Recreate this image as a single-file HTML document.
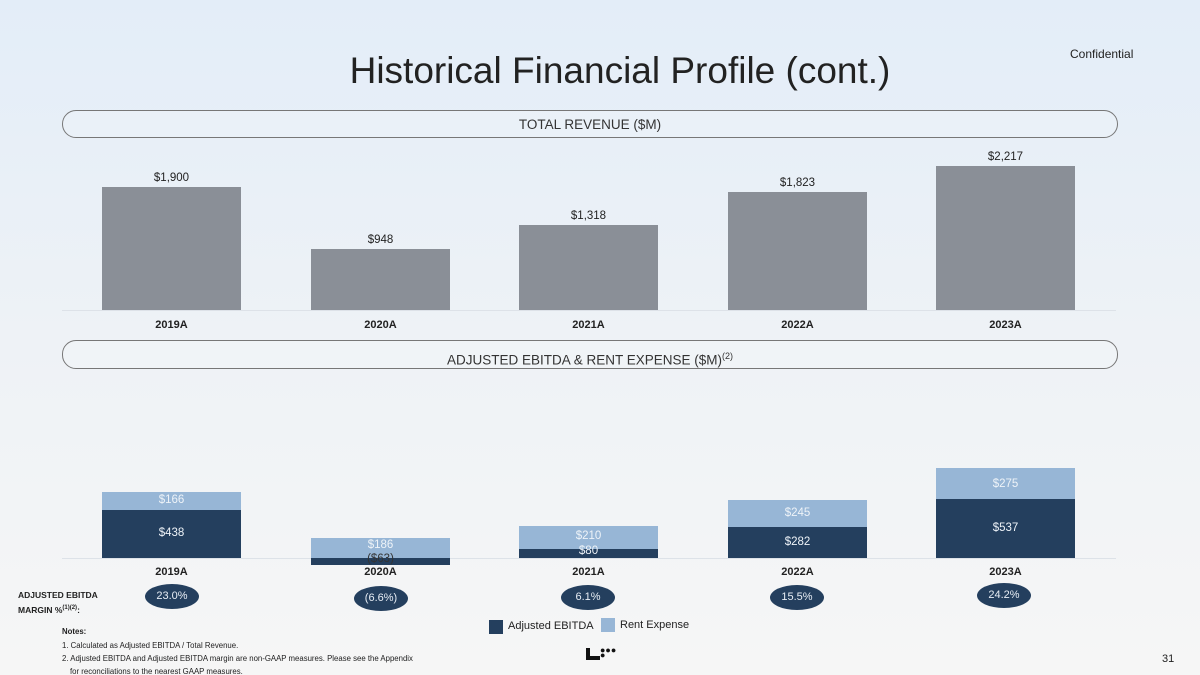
<!DOCTYPE html><html><head><style>
body{margin:0}
#p{position:relative;width:1200px;height:675px;overflow:hidden;background:linear-gradient(#e3edf8 0%,#eef2f6 50%,#f6f6f6 100%);font-family:"Liberation Sans",sans-serif;color:#222}
.a{position:absolute}
.bar{position:absolute;width:139px}
.g{background:#8a8f97}.d{background:#243f5e}.l{background:#97b6d6}
.v{position:absolute;width:139px;text-align:center;font-size:11.5px}
.w{color:#eef3f8}
.yr{position:absolute;width:139px;text-align:center;font-size:11px;font-weight:bold}
.pill{position:absolute;left:62px;width:1054px;border:1px solid #777;border-radius:14px;text-align:center;font-size:13.5px;color:#333;background:rgba(255,255,255,.15)}
.el{position:absolute;width:54px;height:25px;border-radius:50%;background:#243f5e;color:#e8eef5;font-size:11px;text-align:center;line-height:25px}
.n{position:absolute;left:62px;font-size:7.8px}
</style></head><body><div id="p">
<div class="a" style="left:0;width:1240px;top:50px;text-align:center;font-size:37px;color:#222">Historical Financial Profile (cont.)</div>
<div class="a" style="left:1070px;top:47px;font-size:12px">Confidential</div>
<div class="pill" style="top:110px;height:26px;line-height:27px">TOTAL REVENUE ($M)</div>
<div class="a" style="left:62px;width:1054px;top:310px;height:1px;background:#dde2e8"></div>
<div class="bar g" style="left:102px;top:187px;height:123px"></div>
<div class="bar g" style="left:311px;top:249px;height:61px"></div>
<div class="bar g" style="left:519px;top:225px;height:85px"></div>
<div class="bar g" style="left:728px;top:192px;height:118px"></div>
<div class="bar g" style="left:936px;top:166px;height:144px"></div>
<div class="v" style="left:102px;top:172px">$1,900</div>
<div class="v" style="left:311px;top:234px">$948</div>
<div class="v" style="left:519px;top:210px">$1,318</div>
<div class="v" style="left:728px;top:177px">$1,823</div>
<div class="v" style="left:936px;top:151px">$2,217</div>
<div class="yr" style="left:102px;top:319px">2019A</div><div class="yr" style="left:311px;top:319px">2020A</div><div class="yr" style="left:519px;top:319px">2021A</div><div class="yr" style="left:728px;top:319px">2022A</div><div class="yr" style="left:936px;top:319px">2023A</div>
<div class="pill" style="top:340px;height:27px;line-height:30px">ADJUSTED EBITDA &amp; RENT EXPENSE ($M)<sup style="font-size:9px">(2)</sup></div>
<div class="a" style="left:62px;width:1054px;top:558px;height:1px;background:#dde2e8"></div>
<div class="bar l" style="left:102px;top:492px;height:18px"></div><div class="bar d" style="left:102px;top:510px;height:48px"></div>
<div class="bar l" style="left:311px;top:538px;height:20px"></div><div class="bar d" style="left:311px;top:558px;height:7px"></div>
<div class="bar l" style="left:519px;top:526px;height:23px"></div><div class="bar d" style="left:519px;top:549px;height:9px"></div>
<div class="bar l" style="left:728px;top:500px;height:27px"></div><div class="bar d" style="left:728px;top:527px;height:31px"></div>
<div class="bar l" style="left:936px;top:468px;height:31px"></div><div class="bar d" style="left:936px;top:499px;height:59px"></div>
<div class="v w" style="left:102px;top:494px">$166</div><div class="v w" style="left:102px;top:527px">$438</div>
<div class="v w" style="left:311px;top:539px">$186</div><div class="v" style="left:311px;top:553px;color:#333">($63)</div>
<div class="v w" style="left:519px;top:530px">$210</div><div class="v w" style="left:519px;top:545px">$80</div>
<div class="v w" style="left:728px;top:507px">$245</div><div class="v w" style="left:728px;top:536px">$282</div>
<div class="v w" style="left:936px;top:478px">$275</div><div class="v w" style="left:936px;top:522px">$537</div>
<div class="yr" style="left:102px;top:566px">2019A</div><div class="yr" style="left:311px;top:566px">2020A</div><div class="yr" style="left:519px;top:566px">2021A</div><div class="yr" style="left:728px;top:566px">2022A</div><div class="yr" style="left:936px;top:566px">2023A</div>
<div class="a" style="left:18px;top:589px;font-size:8.5px;font-weight:bold;line-height:13px">ADJUSTED EBITDA<br>MARGIN %<sup style="font-size:6px">(1)(2)</sup>:</div>
<div class="el" style="left:145px;top:584px">23.0%</div>
<div class="el" style="left:354px;top:586px">(6.6%)</div>
<div class="el" style="left:561px;top:585px">6.1%</div>
<div class="el" style="left:770px;top:585px">15.5%</div>
<div class="el" style="left:977px;top:583px">24.2%</div>
<div class="a" style="left:489px;top:620px;width:14px;height:14px;background:#243f5e"></div>
<div class="a" style="left:508px;top:620px;font-size:11px">Adjusted EBITDA</div>
<div class="a" style="left:601px;top:618px;width:14px;height:14px;background:#97b6d6"></div>
<div class="a" style="left:620px;top:619px;font-size:11px">Rent Expense</div>
<div class="n" style="top:627px;font-weight:bold">Notes:</div>
<div class="n" style="top:641px">1. Calculated as Adjusted EBITDA / Total Revenue.</div>
<div class="n" style="top:654px">2. Adjusted EBITDA and Adjusted EBITDA margin are non-GAAP measures. Please see the Appendix</div>
<div class="n" style="top:667px;left:70px">for reconciliations to the nearest GAAP measures.</div>
<div class="a" style="left:586px;top:648px;width:4px;height:12px;background:#111"></div>
<div class="a" style="left:586px;top:656px;width:14px;height:4px;background:#111"></div>
<div class="a" style="left:600px;top:648px;font-size:9px;line-height:5px;color:#111">●●●<br>●</div>
<div class="a" style="left:1162px;top:653px;font-size:11px">31</div>
</div></body></html>
